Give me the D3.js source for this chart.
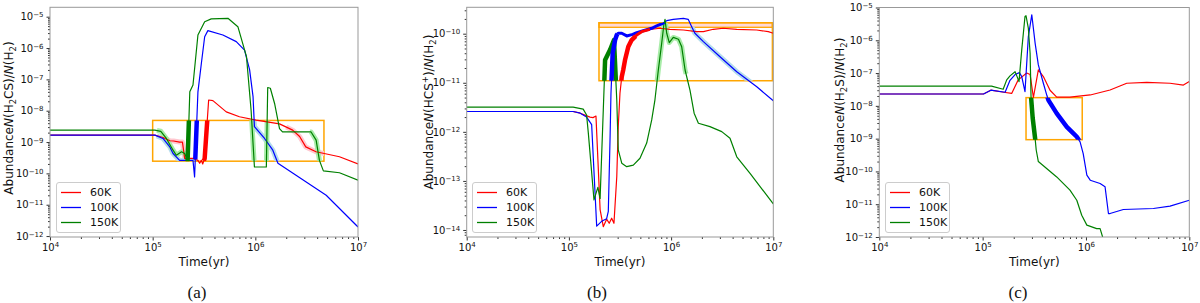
<!DOCTYPE html>
<html lang="en">
<head>
<meta charset="UTF-8">
<title>Abundance vs time</title>
<script src="https://d3js.org/d3.v7.min.js"></script>
<style>
  body { margin: 0; background: #fff; }
  svg { display: block; }
  text { font-family: "DejaVu Sans", sans-serif; fill: #111; }
  .caption { font-family: "Liberation Serif", "DejaVu Serif", serif; }
</style>
</head>
<body>
<svg width="1200" height="303"></svg>
<script>
const temps = ["60K", "100K", "150K"];
const lineColors = ["#ff0000", "#0000ff", "#008000"];
const glowColors = ["#ffc8d0", "#b4dcec", "#a8eca8"];
const xTickExps = [4, 5, 6, 7];

// (a) H2CS
const h2cs60K = [[1e4,1.66e-9],[1.05e5,1.66e-9],[1.26e5,1.4e-9],[1.47e5,1.1e-9],[1.6e5,1.08e-9],[1.83e5,1.0e-9],[1.95e5,1.0e-9],[2.05e5,3.0e-10],[2.47e5,3.0e-10],[2.76e5,2.6e-10],[2.87e5,2.1e-10],[2.98e5,2.6e-10],[3.07e5,2.0e-10],[3.21e5,3.0e-10],[3.51e5,2.2e-8],[3.86e5,2.1e-8],[5.21e5,9.2e-9],[7.0e5,6.4e-9],[1.02e6,5.0e-9],[1.72e6,3.8e-9],[2.31e6,2.4e-9],[2.7e6,1.5e-9],[3.1e6,7.0e-10],[3.9e6,4.9e-10],[6.6e6,3.4e-10],[1e7,2.0e-10]];
const h2cs100K = [[1e4,1.66e-9],[1.05e5,1.66e-9],[1.26e5,1.3e-9],[1.47e5,7.0e-10],[1.58e5,4.3e-10],[1.83e5,2.6e-10],[2.47e5,2.6e-10],[2.56e5,7.7e-11],[2.76e5,4.0e-8],[2.98e5,3.2e-7],[3.21e5,2.3e-6],[3.45e5,3.6e-6],[4.83e5,2.6e-6],[6.52e5,1.6e-6],[7.85e5,8.6e-7],[8.8e5,2.0e-7],[9.5e5,2.8e-8],[9.8e5,3.1e-9],[1.23e6,1.3e-9],[1.48e6,5.5e-10],[1.66e6,2.1e-10],[4.9e6,2.0e-11],[1e7,1.95e-12]];
const h2cs150K = [[1e4,2.4e-9],[1.05e5,2.4e-9],[1.2e5,2.2e-9],[1.36e5,1.3e-9],[1.58e5,5.5e-10],[1.70e5,3.8e-10],[1.91e5,4.9e-10],[2.05e5,4.3e-10],[2.19e5,2.6e-10],[2.30e5,4.0e-8],[2.47e5,6.6e-8],[2.76e5,2.6e-6],[3.21e5,6.9e-6],[3.72e5,8.5e-6],[5.41e5,8.9e-6],[6.76e5,4.8e-6],[8.2e5,5.3e-7],[9.1e5,1.0e-8],[9.8e5,1.6e-10],[1.28e6,1.6e-10],[1.32e6,5.5e-8],[1.40e6,5.2e-8],[1.54e6,1.7e-8],[1.72e6,2.7e-9],[1.84e6,2.1e-9],[3.49e6,2.1e-9],[3.91e6,1.15e-9],[4.21e6,2.6e-10],[4.6e6,1.2e-10],[6.6e6,1.05e-10],[1e7,6.1e-11]];
const h2csBoxT = [1.0e5, 4.66e6];
const h2csBoxY = [2.45e-10, 4.9e-9];
const h2csYExps = [-12, -11, -10, -9, -8, -7, -6, -5];
const h2csDark = [["150K", 2.17e5, 2.35e5, 4.5], ["100K", 2.6e5, 2.8e5, 4.5], ["60K", 3.15e5, 3.5e5, 4.5]];
const h2csLight = [["60K", 1.2e5, 2.1e5], ["60K", 2.0e6, 5e6], ["100K", 1.1e5, 2.5e5], ["100K", 9.5e5, 1.7e6], ["150K", 1.1e5, 2.17e5], ["150K", 9e5, 1.4e6], ["150K", 3.4e6, 5e6]];
const h2csLabel = [["Abundance"], ["N", "i"], ["(H"], ["2", "sub"], ["CS)/"], ["N", "i"], ["(H"], ["2", "sub"], [")"]];

// (b) HCS+
const hcs60K = [[1e4,2.6e-12],[1.10e5,2.6e-12],[1.29e5,2.4e-12],[1.61e5,2.0e-12],[1.72e5,1.95e-12],[1.84e5,2.1e-12],[2.02e5,2.6e-14],[2.17e5,1.17e-14],[2.34e5,1.66e-14],[2.48e5,1.37e-14],[2.62e5,1.74e-14],[2.76e5,1.37e-14],[2.94e5,1.22e-13],[3.04e5,1.28e-12],[3.16e5,6.1e-12],[3.29e5,1.33e-11],[3.40e5,1.82e-11],[3.54e5,2.9e-11],[3.81e5,5.4e-11],[4.11e5,7.4e-11],[4.61e5,9.4e-11],[5.15e5,1.1e-10],[6.22e5,1.23e-10],[7.79e5,1.29e-10],[9.75e5,1.23e-10],[1.32e6,1.19e-10],[1.78e6,1.1e-10],[2.07e6,1.1e-10],[2.59e6,1.23e-10],[3.24e6,1.29e-10],[4.39e6,1.23e-10],[6.89e6,1.19e-10],[8.93e6,1.1e-10],[1e7,1.02e-10]];
const hcs100K = [[1e4,2.6e-12],[1.10e5,2.6e-12],[1.29e5,2.4e-12],[1.49e5,2.0e-12],[1.67e5,1.4e-12],[1.87e5,1.2e-14],[2.09e5,1.5e-14],[2.34e5,1.7e-14],[2.43e5,2.4e-14],[2.53e5,8.0e-13],[2.58e5,6.1e-12],[2.68e5,4.0e-11],[2.83e5,7.4e-11],[2.94e5,9.4e-11],[3.04e5,1.02e-10],[3.29e5,1.02e-10],[3.68e5,9.0e-11],[4.21e5,9.7e-11],[4.61e5,1.05e-10],[5.35e5,1.15e-10],[6.46e5,1.29e-10],[7.23e5,1.44e-10],[8.09e5,1.58e-10],[9.06e5,1.84e-10],[1.05e6,1.96e-10],[1.32e6,2.06e-10],[1.47e6,1.96e-10],[1.59e6,1.39e-10],[1.71e6,1.02e-10],[2.07e6,6.9e-11],[3.01e6,3.4e-11],[4.39e6,1.68e-11],[6.89e6,8.3e-12],[1e7,4.3e-12]];
const hcs150K = [[1e4,3.2e-12],[1.10e5,3.2e-12],[1.38e5,2.9e-12],[1.49e5,2.2e-12],[1.55e5,9.3e-13],[1.76e5,4.1e-14],[1.92e5,7.4e-14],[2.02e5,4.4e-14],[2.17e5,2.8e-12],[2.26e5,2.9e-11],[2.53e5,4.7e-11],[2.76e5,7.4e-11],[2.94e5,4.5e-12],[3.04e5,4.3e-13],[3.29e5,2.3e-13],[3.68e5,1.95e-13],[4.27e5,2.1e-13],[4.96e5,2.9e-13],[5.77e5,5.9e-13],[6.46e5,1.75e-12],[6.95e5,4.5e-12],[7.50e5,1.82e-11],[8.09e5,6.4e-11],[8.53e5,1.63e-10],[8.72e5,1.96e-10],[9.06e5,1.02e-10],[9.60e5,6.6e-11],[1.05e6,8.4e-11],[1.18e6,7.7e-11],[1.27e6,5.4e-11],[1.37e6,1.82e-11],[1.53e6,7.1e-12],[1.68e6,2.4e-12],[1.85e6,1.5e-12],[2.40e6,1.28e-12],[3.13e6,1.01e-12],[3.77e6,7.4e-13],[4.39e6,3.1e-13],[5.92e6,1.43e-13],[1e7,3.4e-14]];
const hcsBoxT = [1.97e5, 9.8e6];
const hcsBoxY = [1.1e-11, 1.67e-10];
const hcsBandY = [1.35e-10, 1.67e-10];
const hcsYExps = [-14, -13, -12, -11, -10];
const hcsDark = [["150K", 2.15e5, 2.95e5, 4.5], ["100K", 2.5e5, 3.0e5, 4.5], ["100K", 3.0e5, 8.6e5, 3], ["60K", 3.1e5, 4.5e5, 4.5], ["60K", 4.5e5, 6.2e5, 3]];
const hcsLight = [["150K", 6.5e5, 1.4e6], ["100K", 1.6e6, 1e7]];
const hcsLabel = [["Abundance"], ["N", "i"], ["(HCS"], ["+", "sup"], [")/"], ["N", "i"], ["(H"], ["2", "sub"], [")"]];

// (c) H2S
const h2s60K = [[1e4,2.3e-8],[1.02e5,2.3e-8],[1.2e5,3.0e-8],[1.6e5,2.6e-8],[1.91e5,2.4e-8],[2.21e5,6.2e-8],[2.67e5,1.0e-7],[2.88e5,9.0e-8],[3.1e5,1.8e-8],[3.46e5,1.25e-7],[3.87e5,7.8e-8],[4.49e5,3.0e-8],[5.21e5,1.85e-8],[7.0e5,1.85e-8],[1.1e6,2.15e-8],[1.71e6,3.05e-8],[2.48e6,4.9e-8],[3.88e6,5.2e-8],[6.51e6,4.9e-8],[8.77e6,4.3e-8],[1e7,5.5e-8]];
const h2s100K = [[1e4,2.3e-8],[1.02e5,2.3e-8],[1.2e5,3.0e-8],[1.65e5,2.6e-8],[1.84e5,6.0e-8],[2.06e5,9.0e-8],[2.27e5,1.03e-7],[2.39e5,7.8e-8],[2.57e5,2.7e-8],[2.77e5,1.3e-6],[2.99e5,6.0e-6],[3.22e5,8.2e-7],[3.46e5,1.77e-7],[3.87e5,4.9e-8],[4.18e5,2.1e-8],[4.33e5,1.5e-8],[5.21e5,5.9e-9],[6.52e5,2.3e-9],[7.55e5,1.45e-9],[8.15e5,1.14e-9],[8.77e5,8.0e-10],[9.4e5,3.5e-10],[1.02e6,7.7e-11],[1.10e6,5.4e-11],[1.37e6,4.3e-11],[1.53e6,3.4e-11],[1.65e6,5.2e-12],[1.71e6,5.2e-12],[2.30e6,6.9e-12],[4.49e6,7.4e-12],[6.51e6,8.7e-12],[1e7,1.32e-11]];
const h2s150K = [[1e4,4.0e-8],[1.22e5,4.0e-8],[1.58e5,3.2e-8],[1.71e5,6.2e-8],[1.84e5,8.2e-8],[2.06e5,1.1e-7],[2.14e5,8.2e-8],[2.25e5,5.5e-8],[2.39e5,5.1e-7],[2.57e5,5.3e-6],[2.63e5,5.6e-6],[2.77e5,2.3e-6],[2.88e5,4.0e-7],[2.94e5,1.9e-8],[3.05e5,4.3e-9],[3.22e5,1.02e-9],[3.3e5,4.5e-10],[3.46e5,2.0e-10],[5.21e5,6.8e-11],[7.0e5,2.7e-11],[8.15e5,1.32e-11],[9.1e5,4.6e-12],[1.02e6,2.3e-12],[1.27e6,1.8e-12],[1.37e6,1.8e-12],[1.5e6,7.0e-13]];
const h2sBoxT = [2.63e5, 9.2e5];
const h2sBoxY = [9.3e-10, 1.78e-8];
const h2sYExps = [-12, -11, -10, -9, -8, -7, -6, -5];
const h2sDark = [["150K", 2.9e5, 3.3e5, 4.5], ["100K", 4.2e5, 8.8e5, 4.5]];
const h2sLight = [];
const h2sLabel = [["Abundance"], ["N", "i"], ["(H"], ["2", "sub"], ["S)/"], ["N", "i"], ["(H"], ["2", "sub"], [")"]];

const captions = ["(a)", "(b)", "(c)"];

// page layout of the three axes
const frames = [
  { left: 50, right: 358, top: 7.3, bottom: 237, yDom: [Math.pow(10, -12.03), Math.pow(10, -4.70)], labelX: 9, labelY: 118, capX: 197 },
  { left: 466.7, right: 773.3, top: 7.3, bottom: 237, yDom: [Math.pow(10, -14.143), Math.pow(10, -9.462)], labelX: 429, labelY: 112, capX: 597 },
  { left: 879.3, right: 1189.3, top: 7.5, bottom: 237, yDom: [1e-12, 1e-5], labelX: 840, labelY: 110, capX: 1018 }
];

const panels = [
  { series: [h2cs60K, h2cs100K, h2cs150K], boxT: h2csBoxT, boxY: h2csBoxY, band: null, yExps: h2csYExps, dark: h2csDark, light: h2csLight, label: h2csLabel },
  { series: [hcs60K, hcs100K, hcs150K], boxT: hcsBoxT, boxY: hcsBoxY, band: hcsBandY, yExps: hcsYExps, dark: hcsDark, light: hcsLight, label: hcsLabel },
  { series: [h2s60K, h2s100K, h2s150K], boxT: h2sBoxT, boxY: h2sBoxY, band: null, yExps: h2sYExps, dark: h2sDark, light: h2sLight, label: h2sLabel }
];

// part of a series between t0 and t1, interpolated in log-log space at the ends
function slice(data, t0, t1) {
  const L = Math.log;
  const interp = (a, b, t) => {
    const f = (L(t) - L(a[0])) / (L(b[0]) - L(a[0]));
    return [t, Math.exp(L(a[1]) + f * (L(b[1]) - L(a[1])))];
  };
  const out = [];
  for (let i = 0; i < data.length; i++) {
    const p = data[i], q = data[i - 1];
    if (q && q[0] < t0 && p[0] > t0) out.push(interp(q, p, t0));
    if (p[0] >= t0 && p[0] <= t1) out.push(p);
    if (q && q[0] < t1 && p[0] > t1) out.push(interp(q, p, t1));
  }
  return out;
}

const svg = d3.select("svg");
const defs = svg.append("defs");
const minus = e => (e < 0 ? "\u2212" + (-e) : String(e));

panels.forEach((P, pi) => {
  const F = frames[pi];
  const x = d3.scaleLog().domain([1e4, 1e7]).range([F.left, F.right]);
  const y = d3.scaleLog().domain(F.yDom).range([F.bottom, F.top]);
  const line = d3.line().x(d => x(d[0])).y(d => y(d[1]));
  const g = svg.append("g");

  defs.append("clipPath").attr("id", "plot" + pi).append("rect")
    .attr("x", F.left).attr("y", F.top).attr("width", F.right - F.left).attr("height", F.bottom - F.top);
  defs.append("clipPath").attr("id", "box" + pi).append("rect")
    .attr("x", x(P.boxT[0])).attr("y", y(P.boxY[1]))
    .attr("width", x(P.boxT[1]) - x(P.boxT[0])).attr("height", y(P.boxY[0]) - y(P.boxY[1]));

  // minor ticks
  const minorX = [];
  [4, 5, 6].forEach(k => { for (let m = 2; m < 10; m++) minorX.push(m * Math.pow(10, k)); });
  const minorY = [];
  const eLo = Math.floor(Math.log10(F.yDom[0])), eHi = Math.ceil(Math.log10(F.yDom[1]));
  for (let k = eLo; k < eHi; k++) for (let m = 2; m < 10; m++) {
    const v = m * Math.pow(10, k);
    if (v >= F.yDom[0] && v <= F.yDom[1]) minorY.push(v);
  }
  g.append("g").attr("transform", `translate(0,${F.bottom})`)
    .call(d3.axisBottom(x).tickValues(minorX).tickSize(2).tickFormat(""))
    .call(s => s.select(".domain").remove());
  g.append("g").attr("transform", `translate(${F.left},0)`)
    .call(d3.axisLeft(y).tickValues(minorY).tickSize(2).tickFormat(""))
    .call(s => s.select(".domain").remove());

  // major ticks with 10^n labels
  const ax = g.append("g").attr("transform", `translate(0,${F.bottom})`)
    .call(d3.axisBottom(x).tickValues(xTickExps.map(e => Math.pow(10, e))).tickSize(3.5).tickPadding(3).tickFormat(() => "10"));
  ax.select(".domain").remove();
  ax.selectAll(".tick text").attr("font-size", 10).attr("font-family", "DejaVu Sans")
    .append("tspan").attr("dy", "-0.45em").attr("font-size", 7).text(d => minus(Math.round(Math.log10(d))));

  const ay = g.append("g").attr("transform", `translate(${F.left},0)`)
    .call(d3.axisLeft(y).tickValues(P.yExps.map(e => Math.pow(10, e))).tickSize(3.5).tickPadding(3).tickFormat(() => "10"));
  ay.select(".domain").remove();
  ay.selectAll(".tick text").attr("font-size", 10).attr("font-family", "DejaVu Sans")
    .append("tspan").attr("dy", "-0.45em").attr("font-size", 7).text(d => minus(Math.round(Math.log10(d))));
  g.selectAll(".tick line").attr("stroke", "#333");

  // observation box
  if (P.band) {
    g.append("rect").attr("x", x(P.boxT[0])).attr("y", y(P.band[1]))
      .attr("width", x(P.boxT[1]) - x(P.boxT[0])).attr("height", y(P.band[0]) - y(P.band[1]))
      .attr("fill", "#ffd8d8").attr("stroke", "orange").attr("stroke-width", 1.3);
  }
  g.append("rect").attr("x", x(P.boxT[0])).attr("y", y(P.boxY[1]))
    .attr("width", x(P.boxT[1]) - x(P.boxT[0])).attr("height", y(P.boxY[0]) - y(P.boxY[1]))
    .attr("fill", "none").attr("stroke", "orange").attr("stroke-width", 1.5);

  const plot = g.append("g").attr("clip-path", `url(#plot${pi})`);
  const inBox = plot.append("g").attr("clip-path", `url(#box${pi})`);

  P.light.forEach(([name, t0, t1]) => {
    const i = temps.indexOf(name);
    inBox.append("path").datum(slice(P.series[i], t0, t1)).attr("d", line)
      .attr("fill", "none").attr("stroke", glowColors[i]).attr("stroke-width", 5).attr("stroke-linejoin", "round");
  });

  P.series.forEach((s, i) => {
    plot.append("path").datum(s).attr("d", line)
      .attr("fill", "none").attr("stroke", lineColors[i]).attr("stroke-width", 1.2).attr("stroke-linejoin", "round");
  });

  const inBox2 = plot.append("g").attr("clip-path", `url(#box${pi})`);
  P.dark.forEach(([name, t0, t1, w]) => {
    const i = temps.indexOf(name);
    inBox2.append("path").datum(slice(P.series[i], t0, t1)).attr("d", line)
      .attr("fill", "none").attr("stroke", lineColors[i]).attr("stroke-width", w).attr("stroke-linejoin", "round");
  });

  // frame
  g.append("rect").attr("x", F.left).attr("y", F.top).attr("width", F.right - F.left).attr("height", F.bottom - F.top)
    .attr("fill", "none").attr("stroke", "#999").attr("stroke-width", 1);

  // legend
  const lx = Math.round(F.left + 5.5), ly = Math.round(F.bottom - 55);
  const lg = g.append("g").attr("transform", `translate(${lx},${ly})`);
  lg.append("rect").attr("x", 0.5).attr("y", 0.5).attr("width", 64).attr("height", 50).attr("rx", 2.5)
    .attr("fill", "#fff").attr("fill-opacity", 0.8).attr("stroke", "#ccc");
  temps.forEach((t, i) => {
    const yy = 10.5 + i * 15;
    lg.append("line").attr("x1", 5).attr("x2", 25).attr("y1", yy).attr("y2", yy)
      .attr("stroke", lineColors[i]).attr("stroke-width", 1.3);
    lg.append("text").attr("x", 34).attr("y", yy).attr("dy", "0.36em").attr("font-size", 11).text(t);
  });

  // axis labels
  svg.append("text").attr("x", (F.left + F.right) / 2).attr("y", 266).attr("text-anchor", "middle")
    .attr("font-size", 12).text("Time(yr)");
  const yl = svg.append("text").attr("text-anchor", "middle").attr("font-size", 12)
    .attr("transform", `translate(${F.labelX},${F.labelY}) rotate(-90)`)
    .attr("dy", "0.36em");
  let shift = 0;
  P.label.forEach(([txt, kind]) => {
    const ts = yl.append("tspan").text(txt);
    let target = 0;
    if (kind === "sub") { target = 3; ts.attr("font-size", 8.5); }
    if (kind === "sup") { target = -5; ts.attr("font-size", 8.5); }
    if (kind === "i") ts.attr("font-style", "italic");
    if (target !== shift) ts.attr("dy", target - shift);
    shift = target;
  });

  svg.append("text").attr("class", "caption").attr("x", F.capX).attr("y", 298)
    .attr("text-anchor", "middle").attr("font-size", 17).text(captions[pi]);
});
</script>
</body>
</html>
